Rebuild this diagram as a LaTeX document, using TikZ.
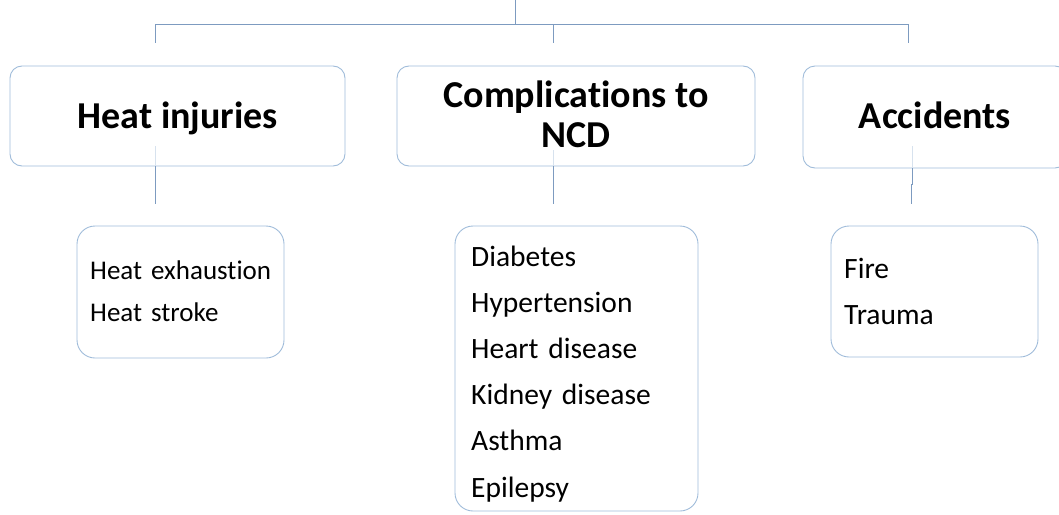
\documentclass[tikz,border=0pt]{standalone}
\usepackage{fontspec}
\setmainfont{Carlito}[Ligatures=NoCommon]
\definecolor{linkblue}{RGB}{125,155,192}
\definecolor{framblue}{RGB}{160,188,218}
\definecolor{faintblue}{RGB}{215,226,238}
\begin{document}
\begin{tikzpicture}[x=1pt,y=-1pt,
  link/.style={draw=linkblue,line width=1pt},
  faintlink/.style={draw=faintblue,line width=1pt},
  headbox/.style={draw=framblue,line width=0.9pt,rounded corners=12pt,inner sep=0pt},
  listbox/.style={draw=framblue,line width=0.9pt,rounded corners=18pt,inner sep=0pt},
  headtext/.style={anchor=base,align=center,inner sep=0pt,
    font=\fontsize{38}{40}\bfseries\selectfont},
  listtext/.style={anchor=base west,align=left,inner sep=0pt,text width=230pt}]
  \useasboundingbox (0,0) rectangle (1059,514);
  \clip (0,0) rectangle (1059,514);

  % top-level bus
  \coordinate (root) at (515,0);
  \coordinate (bus) at (515,24);
  \coordinate (busL) at (155,24);
  \coordinate (busM) at (553,24);
  \coordinate (busR) at (908,24);
  \coordinate (dropL) at (155,43);
  \coordinate (dropM) at (553,43);
  \coordinate (dropR) at (908,43);

  % category boxes and their titles
  \node[headbox,minimum width=335pt,minimum height=100pt] (heat) at (177.5,116) {};
  \node[headbox,minimum width=358pt,minimum height=100pt] (ncd) at (576,116) {};
  \node[headbox,minimum width=264pt,minimum height=102pt] (acc) at (935,117) {};

  % stubs below the category boxes (faint where they run behind a box)
  \coordinate (stubL) at (155,204);
  \coordinate (stubM) at (553,204);
  \coordinate (stubR) at (911,204);
  \coordinate (innerL) at (155,146);
  \coordinate (innerM) at (553,150);
  \coordinate (innerR) at (912,146);
  \draw[faintlink] (innerL) -- (heat.south -| innerL);
  \draw[faintlink] (innerM) -- (ncd.south -| innerM);
  \draw[faintlink] (innerR) -- (acc.south -| innerR);

  % the last line of a centred title sits on the given baseline
  \node[headtext] (heatT) at (178,128) {Heat injuries};
  \node[headtext] (ncdT) at (576,147) {Complications to\\NCD};
  \node[headtext] (accT) at (935,128) {Accidents};

  % list boxes and their entries
  \node[listbox,minimum width=207pt,minimum height=132pt] (heatlist) at (180.5,292) {};
  \node[listbox,minimum width=243pt,minimum height=285pt] (ncdlist) at (576.5,368.5) {};
  \node[listbox,minimum width=207pt,minimum height=131pt] (acclist) at (934.5,291.5) {};

  \node[listtext,font=\fontsize{27}{42}\selectfont] (heatL) at (90,279)
    {Heat exhaustion\\Heat stroke};
  \node[listtext,font=\fontsize{29.5}{46.2}\selectfont] (ncdL) at (471,266)
    {Diabetes\\Hypertension\\Heart disease\\Kidney disease\\Asthma\\Epilepsy};
  \node[listtext,font=\fontsize{29.5}{46}\selectfont] (accL) at (844,278)
    {Fire\\Trauma};

  \draw[link] (root) -- (bus);
  \draw[link] (busL) -- (busR);
  \draw[link] (busL) -- (dropL);
  \draw[link] (busM) -- (dropM);
  \draw[link] (busR) -- (dropR);
  \draw[link] (heat.south -| stubL) -- (stubL);
  \draw[link] (ncd.south -| stubM) -- (stubM);
  \draw[link] (acc.south -| innerR) -- ++(0,16) -| (stubR);
\end{tikzpicture}
\end{document}
